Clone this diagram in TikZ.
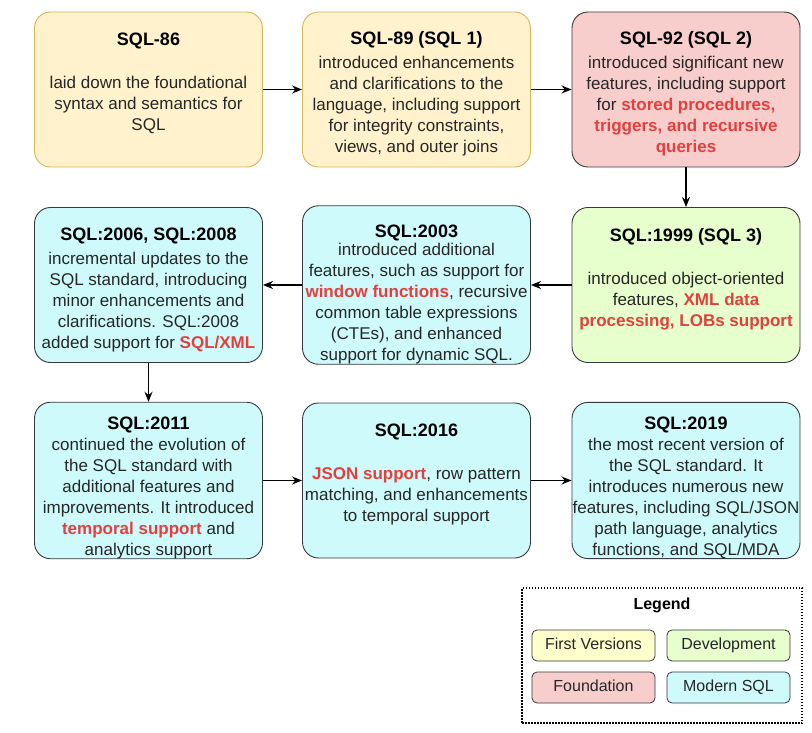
\documentclass[tikz,border=0pt]{standalone}
\usepackage{fontspec}
\setmainfont{Liberation Sans}
\usetikzlibrary{arrows.meta}
\definecolor{firstfill}{HTML}{FFF2CC}
\definecolor{firstline}{HTML}{D6B656}
\definecolor{foundfill}{HTML}{F8CECC}
\definecolor{devfill}{HTML}{E6FFCC}
\definecolor{modfill}{HTML}{CFFAFC}
\definecolor{legfirst}{HTML}{FFFFCC}
\definecolor{boxline}{HTML}{36393D}
\definecolor{hlred}{HTML}{E2403E}
\definecolor{bodytext}{HTML}{262626}
\newcommand\hl[1]{\textcolor{hlred}{\bfseries #1}}
\newcommand\ttl[2][0pt]{{\fontsize{18}{21}\selectfont\bfseries\color{black}\rule{0pt}{#1}#2}}
\newcommand\lowpad{\rule[-15pt]{0pt}{0pt}}
\tikzset{
  sqlbox/.style={draw=boxline, line width=0.9pt, rounded corners=16pt,
    minimum width=228pt, minimum height=155pt, inner sep=0pt,
    align=center, text=bodytext, font=\fontsize{17}{21}\selectfont},
  firstbox/.style={sqlbox, fill=firstfill, draw=firstline},
  foundbox/.style={sqlbox, fill=foundfill},
  devbox/.style={sqlbox, fill=devfill},
  modbox/.style={sqlbox, fill=modfill},
  flow/.style={-{Stealth[length=10pt,width=8pt]}, line width=1.5pt},
  legitem/.style={draw=boxline, line width=0.8pt, rounded corners=5pt,
    minimum width=123pt, minimum height=31pt, inner sep=0pt,
    text height=11.5pt, text depth=3.5pt,
    text=bodytext, font=\fontsize{16}{19}\selectfont}
}
\begin{document}
\begin{tikzpicture}[x=1pt,y=-1pt]
\useasboundingbox (0,0) rectangle (812,733);
\node[firstbox] (sql86) at (148.5,89.5) {\ttl{SQL-86}\\[22pt]
  laid down the foundational\\ syntax and semantics for\\ SQL\lowpad};
\node[firstbox] (sql89) at (416.5,89.5) {\ttl[22pt]{SQL-89 (SQL 1)}\\[3pt]
  introduced enhancements\\ and clarifications to the\\
  language, including support\\ for integrity constraints,\\
  views, and outer joins};
\node[foundbox] (sql92) at (686,89.5) {\ttl[22pt]{SQL-92 (SQL 2)}\\[3pt]
  introduced significant new\\ features, including support\\
  for \hl{stored procedures,}\\ \hl{triggers, and recursive}\\ \hl{queries}};
\node[devbox] (sql99) at (686,285) {\ttl{SQL:1999 (SQL 3)}\\[22pt]
  introduced object-oriented\\ features, \hl{XML data}\\
  \hl{processing, LOBs support}\lowpad};
\node[modbox] (sql2003) at (416.5,285) {\ttl[32pt]{SQL:2003}\\[-3pt]
  introduced additional\\ features, such as support for\\
  \hl{window functions}, recursive\\ common table expressions\\
  (CTEs), and enhanced\\ support for dynamic SQL.};
\node[modbox] (sql2006) at (148.5,285) {\ttl[22pt]{SQL:2006, SQL:2008}\\[3pt]
  incremental updates to the\\ SQL standard, introducing\\
  minor enhancements and\\ clarifications. SQL:2008\\
  added support for \hl{SQL/XML}};
\node[modbox] (sql2011) at (148.5,480.5) {\ttl[27pt]{SQL:2011}\\
  continued the evolution of\\ the SQL standard with\\
  additional features and\\ improvements. It introduced\\
  \hl{temporal support} and\\ analytics support};
\node[modbox] (sql2016) at (416.5,480.5) {\ttl{SQL:2016}\\[22pt]
  \hl{JSON support}, row pattern\\ matching, and enhancements\\
  to temporal support\lowpad};
\node[modbox] (sql2019) at (686,480.5) {\ttl[27pt]{SQL:2019}\\
  the most recent version of\\ the SQL standard. It\\
  introduces numerous new\\ features, including SQL/JSON\\
  path language, analytics\\ functions, and SQL/MDA};
\draw[flow] (sql86) -- (sql89);
\draw[flow] (sql89) -- (sql92);
\draw[flow] (sql92) -- (sql99);
\draw[flow] (sql99) -- (sql2003);
\draw[flow] (sql2003) -- (sql2006);
\draw[flow] (sql2006) -- (sql2011);
\draw[flow] (sql2011) -- (sql2016);
\draw[flow] (sql2016) -- (sql2019);
\node[draw, line width=1.2pt, dash pattern=on 1.5pt off 1.5pt, fill=white,
  minimum width=280pt, minimum height=135pt] (legend) at (662,655.5) {};
\node[font=\fontsize{16}{19}\selectfont\bfseries] (legtitle) at (662,605) {Legend};
\node[legitem, fill=legfirst] (legfirst) at (593.5,645.5) {First Versions};
\node[legitem, fill=devfill] (legdev) at (728.5,645.5) {Development};
\node[legitem, fill=foundfill] (legfound) at (593.5,687.5) {Foundation};
\node[legitem, fill=modfill] (legmod) at (728.5,687.5) {Modern SQL};
\end{tikzpicture}
\end{document}
